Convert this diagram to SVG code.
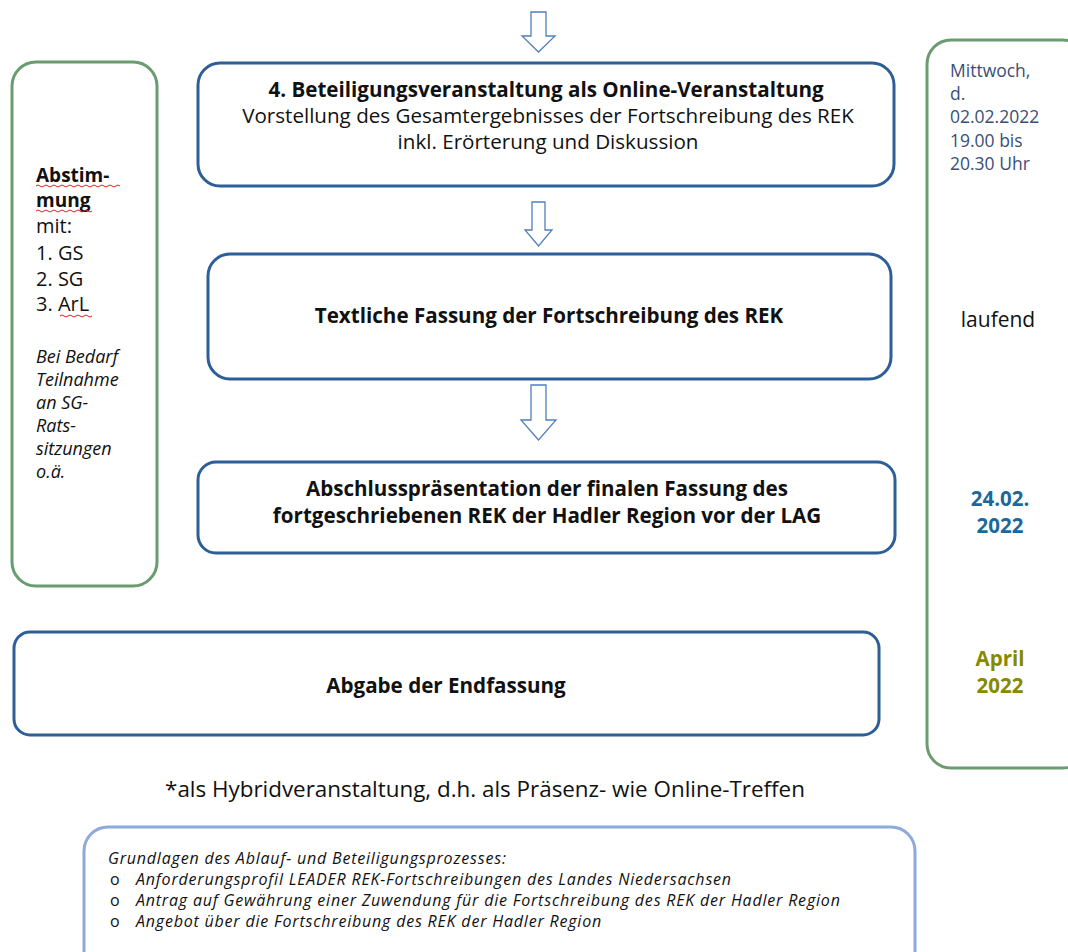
<svg xmlns="http://www.w3.org/2000/svg" width="1068" height="952" viewBox="0 0 1068 952">
<style>
text{font-family:"Open Sans","Noto Sans","DejaVu Sans",sans-serif;fill:#111}
.b{font-weight:bold}
.i{font-style:italic}
.m{font-size:20.6px}
.c{text-anchor:middle}
.dk{fill:#3a4e78}
.bl{fill:#1d6899}
.ol{fill:#858a00}
.box{fill:#fff;stroke:#2e5e97;stroke-width:3}
.gbox{fill:#fff;stroke:#6b9b70;stroke-width:3}
.arr{fill:#fff;stroke:#4f7fbf;stroke-width:1.3}
.sq{fill:none;stroke:#e02020;stroke-width:1}
</style>
<rect width="1068" height="952" fill="#fff"/>
<g id="connectors">
<path class="arr" d="M531,12 H546 V36 H555 L538.5,52 L522,36 H531 Z"/>
<path class="arr" d="M532,202 H545 V230 H552 L538.5,246 L525,230 H532 Z"/>
<path class="arr" d="M531,385 H546 V420 H556 L538.5,440 L521,420 H531 Z"/>
</g>
<g id="abstimmung">
<rect class="gbox" x="12" y="62" width="145" height="524" rx="24"/>
<text x="36" y="182" class="b" font-size="19">Abstim-</text>
<path class="sq" d="M36,186 q2,-2 4,0 t4,0 t4,0 t4,0 t4,0 t4,0 t4,0 t4,0 t4,0 t4,0 t4,0 t4,0 t4,0 t4,0 t4,0 t4,0 t4,0 t4,0 t4,0 t4,0 t4,0"/>
<text x="36" y="207" class="b" font-size="19">mung</text>
<path class="sq" d="M36,211 q2,-2 4,0 t4,0 t4,0 t4,0 t4,0 t4,0 t4,0 t4,0 t4,0 t4,0 t4,0 t4,0 t4,0 t4,0"/>
<text x="36" y="233" font-size="20">mit:</text>
<text x="36" y="260" font-size="20">1. GS</text>
<text x="36" y="286" font-size="20">2. SG</text>
<text x="36" y="311" font-size="20">3. ArL</text>
<path class="sq" d="M60,316 q2,-2 4,0 t4,0 t4,0 t4,0 t4,0 t4,0 t4,0 t4,0"/>
<g class="i" font-size="18">
<text x="36" y="363">Bei Bedarf</text>
<text x="36" y="386">Teilnahme</text>
<text x="36" y="409">an SG-</text>
<text x="36" y="432">Rats-</text>
<text x="36" y="455">sitzungen</text>
<text x="36" y="478">o.ä.</text>
</g>
</g>
<g id="termine">
<rect class="gbox" x="927" y="40" width="160" height="728" rx="24"/>
<g font-size="17.5">
<text x="950" y="77" class="dk">Mittwoch,</text>
<text x="950" y="100" class="dk">d.</text>
<text x="950" y="123" class="dk">02.02.2022</text>
<text x="950" y="147" class="dk">19.00 bis</text>
<text x="950" y="170" class="dk">20.30 Uhr</text>
</g>
<text x="998" y="327" class="c" font-size="21">laufend</text>
<text x="1000" y="506" class="c b bl" font-size="20.5">24.02.</text>
<text x="1000" y="533" class="c b bl" font-size="20.5">2022</text>
<text x="1000" y="666" class="c b ol" font-size="20.5">April</text>
<text x="1000" y="693" class="c b ol" font-size="20.5">2022</text>
</g>
<g id="veranstaltung">
<rect class="box" x="198" y="63" width="696" height="123" rx="22"/>
<text x="546" y="97" class="c b m">4. Beteiligungsveranstaltung als Online-Veranstaltung</text>
<text x="548" y="123" class="c m">Vorstellung des Gesamtergebnisses der Fortschreibung des REK</text>
<text x="548" y="149" class="c m">inkl. Erörterung und Diskussion</text>
</g>
<g id="textfassung">
<rect class="box" x="208" y="254" width="683" height="125" rx="22"/>
<text x="549" y="323" class="c b m">Textliche Fassung der Fortschreibung des REK</text>
</g>
<g id="abschluss">
<rect class="box" x="198" y="462" width="697" height="91" rx="18"/>
<text x="547" y="496" class="c b m">Abschlusspräsentation der finalen Fassung des</text>
<text x="547" y="523" class="c b m">fortgeschriebenen REK der Hadler Region vor der LAG</text>
</g>
<g id="endfassung">
<rect class="box" x="14" y="632" width="865" height="103" rx="16"/>
<text x="446" y="693" class="c b m">Abgabe der Endfassung</text>
</g>
<g id="hinweis">
<text x="485" y="797" class="c" font-size="22.4">*als Hybridveranstaltung, d.h. als Präsenz- wie Online-Treffen</text>
</g>
<g id="grundlagen">
<rect x="84" y="827" width="831" height="150" rx="24" fill="#fff" stroke="#8eaadb" stroke-width="3"/>
<g class="i" font-size="16" letter-spacing="0.8">
<text x="108" y="864">Grundlagen des Ablauf- und Beteiligungsprozesses:</text>
<text x="110" y="885" style="font-style:normal">o</text>
<text x="136" y="885">Anforderungsprofil LEADER REK-Fortschreibungen des Landes Niedersachsen</text>
<text x="110" y="906" style="font-style:normal">o</text>
<text x="136" y="906">Antrag auf Gewährung einer Zuwendung für die Fortschreibung des REK der Hadler Region</text>
<text x="110" y="927" style="font-style:normal">o</text>
<text x="136" y="927">Angebot über die Fortschreibung des REK der Hadler Region</text>
</g>
</g>
</svg>
